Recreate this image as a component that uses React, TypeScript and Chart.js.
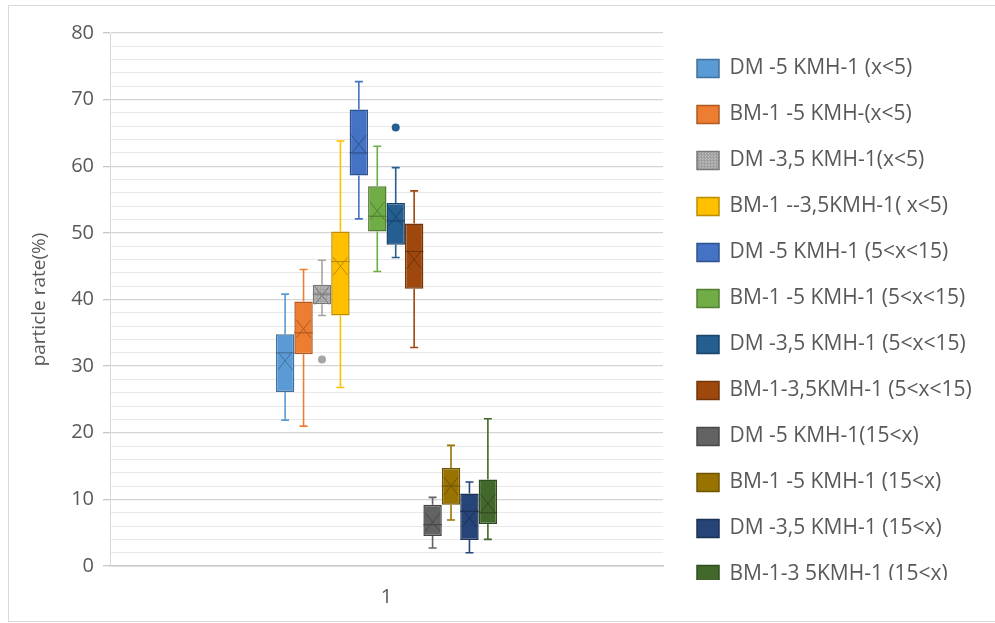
import React, { useEffect, useRef } from 'react';
import { Chart, registerables } from 'chart.js';

Chart.register(...registerables);

const FONT = '"Open Sans", "Noto Sans", sans-serif';
const TEXT_COLOR = '#595959';

const categories = ['1'];

const seriesNames = [
  'DM -5 KMH-1 (x<5)',
  'BM-1 -5 KMH-(x<5)',
  'DM -3,5 KMH-1(x<5)',
  'BM-1 --3,5KMH-1( x<5)',
  'DM -5 KMH-1 (5<x<15)',
  'BM-1 -5 KMH-1 (5<x<15)',
  'DM -3,5 KMH-1 (5<x<15)',
  'BM-1-3,5KMH-1 (5<x<15)',
  'DM -5 KMH-1(15<x)',
  'BM-1 -5 KMH-1 (15<x)',
  'DM -3,5 KMH-1 (15<x)',
  'BM-1-3 5KMH-1 (15<x)',
];

const fillColors = [
  '#5B9BD5', '#ED7D31', '#A5A5A5', '#FFC000', '#4472C4', '#70AD47',
  '#255E91', '#9E480E', '#636363', '#997300', '#264478', '#43682B',
];

const borderColors = [
  '#41719C', '#AE5A21', '#787878', '#BC8C00', '#2F528F', '#507E32',
  '#1A4468', '#73340A', '#474747', '#6F5400', '#1B3157', '#314C1F',
];

const whiskerLow = [21.9, 21.0, 37.6, 26.8, 52.1, 44.2, 46.3, 32.8, 2.7, 6.9, 2.0, 4.0];
const q1 = [26.1, 31.8, 39.3, 37.6, 58.6, 50.2, 48.2, 41.6, 4.5, 9.2, 3.9, 6.3];
const median = [32.0, 35.0, 40.8, 45.7, 62.0, 52.5, 51.8, 47.2, 6.2, 12.0, 8.2, 8.0];
const q3 = [34.8, 39.7, 42.2, 50.2, 68.5, 57.0, 54.5, 51.4, 9.2, 14.7, 10.9, 13.0];
const whiskerHigh = [40.8, 44.5, 45.9, 63.8, 72.7, 63.0, 59.8, 56.3, 10.3, 18.1, 12.6, 22.1];
const means = [30.8, 35.6, 40.6, 45.0, 63.3, 53.3, 52.4, 46.0, 6.6, 12.0, 7.2, 9.4];
const outliers: number[][] = [[], [], [31.0], [], [], [], [65.8], [], [], [], [], []];

const yMin = 0;
const yMax = 80;
const yStep = 2;
const yLabelEvery = 10;

const W = 995;
const H = 623;

const boxPlugin = {
  id: 'boxExtras',
  beforeDraw(chart: any) {
    const ctx = chart.ctx;
    ctx.save();
    ctx.fillStyle = '#ffffff';
    ctx.fillRect(0, 0, chart.width, chart.height);
    ctx.strokeStyle = '#d9d9d9';
    ctx.lineWidth = 1;
    ctx.strokeRect(8.5, 5.5, chart.width, 616);
    ctx.restore();
  },
  afterDatasetsDraw(chart: any) {
    const ctx = chart.ctx;
    const ys = chart.scales.y;
    ctx.save();
    seriesNames.forEach((_, i) => {
      const meta = chart.getDatasetMeta(i);
      const bar = meta.data[0];
      if (!bar) return;
      const { x, width } = bar.getProps(['x', 'width'], true);
      const pHigh = ys.getPixelForValue(whiskerHigh[i]);
      const pLow = ys.getPixelForValue(whiskerLow[i]);
      const pQ1 = ys.getPixelForValue(q1[i]);
      const pQ3 = ys.getPixelForValue(q3[i]);
      const pMed = ys.getPixelForValue(median[i]);
      const pMean = ys.getPixelForValue(means[i]);
      const cap = 4;
      ctx.strokeStyle = fillColors[i];
      ctx.lineWidth = 1.6;
      ctx.beginPath();
      ctx.moveTo(x, pQ3);
      ctx.lineTo(x, pHigh);
      ctx.moveTo(x - cap, pHigh);
      ctx.lineTo(x + cap, pHigh);
      ctx.moveTo(x, pQ1);
      ctx.lineTo(x, pLow);
      ctx.moveTo(x - cap, pLow);
      ctx.lineTo(x + cap, pLow);
      ctx.stroke();
      ctx.strokeStyle = borderColors[i];
      ctx.lineWidth = 1.2;
      ctx.beginPath();
      ctx.moveTo(x - width / 2, pMed);
      ctx.lineTo(x + width / 2, pMed);
      ctx.stroke();
      const hw = width / 2 - 2;
      const hh = 9;
      ctx.lineWidth = 1;
      ctx.beginPath();
      ctx.moveTo(x - hw, pMean - hh);
      ctx.lineTo(x + hw, pMean + hh);
      ctx.moveTo(x + hw, pMean - hh);
      ctx.lineTo(x - hw, pMean + hh);
      ctx.stroke();
      ctx.fillStyle = fillColors[i];
      outliers[i].forEach((v) => {
        ctx.beginPath();
        ctx.arc(x, ys.getPixelForValue(v), 4, 0, Math.PI * 2);
        ctx.fill();
      });
    });
    ctx.restore();
  },
  afterDraw(chart: any) {
    const legend = chart.legend;
    if (!legend) return;
    const ctx = chart.ctx;
    ctx.save();
    ctx.fillStyle = '#ffffff';
    ctx.fillRect(legend.left, 580, chart.width - legend.left, 621 - 580);
    ctx.restore();
  },
};

export default function App() {
  const ref = useRef<HTMLCanvasElement>(null);

  useEffect(() => {
    const canvas = ref.current;
    if (!canvas) return;
    const ctx2d = canvas.getContext('2d')!;

    const pc = document.createElement('canvas');
    pc.width = 3;
    pc.height = 3;
    const pctx = pc.getContext('2d')!;
    pctx.fillStyle = '#A5A5A5';
    pctx.fillRect(0, 0, 3, 3);
    pctx.fillStyle = '#BDBDBD';
    pctx.fillRect(0, 0, 1, 1);
    pctx.fillRect(1, 2, 1, 1);
    pctx.fillStyle = '#969696';
    pctx.fillRect(2, 1, 1, 1);
    const pattern = ctx2d.createPattern(pc, 'repeat');

    const legendFontSize = 21;
    const legendBoxW = 22;
    const legendPad = 25;
    const m = document.createElement('canvas').getContext('2d')!;
    m.font = `${legendFontSize}px ${FONT}`;
    const maxText = Math.max(...seriesNames.map((n) => m.measureText(n).width));
    const legendWidth = legendPad + legendBoxW + legendFontSize / 2 + maxText + 10;
    const legendLeft = 672;
    const padRight = Math.max(0, W - legendLeft - legendWidth);

    const datasets = seriesNames.map((name, i) => ({
      label: name,
      data: [[q1[i], q3[i]]] as any,
      backgroundColor: i === 2 && pattern ? (pattern as any) : fillColors[i],
      borderColor: borderColors[i],
      borderWidth: 1.5,
      borderSkipped: false,
      categoryPercentage: 0.4,
      barPercentage: 1.0,
    }));

    const chart = new Chart(canvas, {
      type: 'bar',
      data: { labels: categories, datasets },
      options: {
        animation: false,
        responsive: false,
        devicePixelRatio: 1,
        layout: { padding: { top: 33, left: 0, right: padRight, bottom: 0 } },
        plugins: {
          tooltip: { enabled: false },
          legend: {
            position: 'right',
            align: 'start',
            maxWidth: 600,
            labels: {
              boxWidth: legendBoxW,
              boxHeight: 18,
              padding: legendPad,
              color: TEXT_COLOR,
              font: { family: FONT, size: legendFontSize },
            },
          },
        },
        scales: {
          x: {
            type: 'category',
            grid: { display: false, drawTicks: false },
            border: { display: true, color: '#c8c8c8', width: 1.5 },
            ticks: { color: TEXT_COLOR, font: { family: FONT, size: 20 }, padding: 19 },
            afterFit: (s: any) => {
              s.height = 57;
            },
          },
          y: {
            type: 'linear',
            position: 'left',
            min: yMin,
            max: yMax,
            ticks: {
              stepSize: yStep,
              autoSkip: false,
              padding: 9,
              color: TEXT_COLOR,
              font: { family: FONT, size: 20 },
              callback: (v: any) => (Number(v) % yLabelEvery === 0 ? String(v) : ''),
            },
            grid: {
              color: (c: any) => (c.tick && c.tick.value % yLabelEvery === 0 ? '#d4d4d4' : '#e8e8e8'),
              lineWidth: (c: any) => (c.tick && c.tick.value % yLabelEvery === 0 ? 1.3 : 1),
              tickLength: 7,
              tickColor: (c: any) => (c.tick && c.tick.value % yLabelEvery === 0 ? '#c8c8c8' : 'rgba(0,0,0,0)'),
            },
            border: { display: true, color: '#d9d9d9', width: 1 },
            title: {
              display: true,
              text: 'particle rate(%)',
              color: TEXT_COLOR,
              font: { family: FONT, size: 19 },
              padding: { top: 28, bottom: 0 },
            },
            afterFit: (s: any) => {
              s.width = 110;
            },
          },
          y2: {
            type: 'linear',
            position: 'right',
            display: true,
            grid: { display: false, drawTicks: false },
            ticks: { display: false },
            border: { display: false },
            afterFit: (s: any) => {
              s.width = 9;
            },
          },
        },
      } as any,
      plugins: [boxPlugin],
    });

    return () => {
      chart.destroy();
    };
  }, []);

  return (
    <div style={{ position: 'fixed', left: 0, top: 0, width: W, height: H, background: '#fff' }}>
      <canvas ref={ref} width={W} height={H} style={{ display: 'block', width: W, height: H }} />
    </div>
  );
}
